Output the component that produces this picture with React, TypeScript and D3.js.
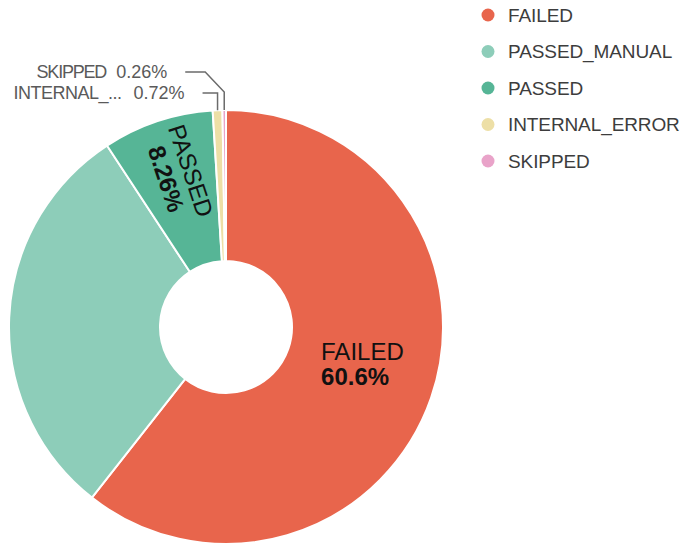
import React from "react";
import * as d3 from "d3";

const categories = ["FAILED", "PASSED_MANUAL", "PASSED", "INTERNAL_ERROR", "SKIPPED"];
const values = [60.6, 30.16, 8.26, 0.72, 0.26];
const colors = ["#E8654C", "#8DCDB9", "#56B596", "#EDDFA6", "#E9A3C9"];
const outsideNames = ["", "", "", "INTERNAL_...", "SKIPPED"];

const W = 682;
const H = 545;
const cx = 226;
const cy = 327;
const R = 217;
const r0 = 66;

export default function App() {
  const pie = d3.pie<number>().sort(null).value((d) => d)(values);
  const arc = d3.arc<d3.PieArcDatum<number>>().innerRadius(r0).outerRadius(R);
  const total = d3.sum(values);
  const fmt = (v: number) => `${+((v / total) * 100).toFixed(2)}%`;

  const inside: React.ReactNode[] = [];
  const outside: React.ReactNode[] = [];

  pie.forEach((p, i) => {
    const mid = (p.startAngle + p.endAngle) / 2;
    const deg = (mid * 180) / Math.PI;
    const share = values[i] / total;
    if (share > 0.05) {
      if (i === 2) {
        const lr = 150;
        const x = cx + lr * Math.sin(mid);
        const y = cy - lr * Math.cos(mid) - 10;
        const rot = deg - 270;
        inside.push(
          <g key={"in" + i} transform={`translate(${x},${y}) rotate(${rot})`}>
            <text textAnchor="middle" dominantBaseline="central" y={-13} fontSize={24} fill="#111">
              {categories[i]}
            </text>
            <text textAnchor="middle" dominantBaseline="central" y={13} fontSize={24} fontWeight="bold" fill="#111">
              {fmt(values[i])}
            </text>
          </g>
        );
      } else if (i === 0) {
        const lr = 145;
        const x = cx + lr * Math.sin(mid);
        const y = cy - lr * Math.cos(mid) - 10;
        const halfW = 42;
        inside.push(
          <g key={"in" + i} transform={`translate(${x - halfW},${y})`}>
            <text textAnchor="start" dominantBaseline="central" y={-12.5} fontSize={24} fill="#111">
              {categories[i]}
            </text>
            <text textAnchor="start" dominantBaseline="central" y={12.5} fontSize={24} fontWeight="bold" fill="#111">
              {fmt(values[i])}
            </text>
          </g>
        );
      }
    } else {
      const x0 = cx + R * Math.sin(mid);
      const y0 = cy - R * Math.cos(mid);
      let pts: [number, number][];
      let ly: number;
      let ls: number;
      let gap: number;
      if (categories[i] === "SKIPPED") {
        ly = 72;
        ls = -1.2;
        gap = 10;
        pts = [
          [x0, y0],
          [x0, 92],
          [x0 - 19, ly],
          [x0 - 39, ly],
        ];
      } else {
        ly = 93;
        ls = -0.5;
        gap = 12;
        pts = [
          [x0, y0],
          [x0, ly],
          [x0 - 15, ly],
        ];
      }
      const last = pts[pts.length - 1];
      outside.push(
        <g key={"out" + i}>
          <path d={d3.line()(pts) || ""} fill="none" stroke="#6b6b6b" strokeWidth={1.5} />
          <text
            x={last[0] - 18}
            y={ly}
            textAnchor="end"
            dominantBaseline="central"
            fontSize={18}
            fill="#5a5a5a"
          >
            <tspan letterSpacing={ls}>{outsideNames[i]}</tspan>
            <tspan dx={gap}>{fmt(values[i])}</tspan>
          </text>
        </g>
      );
    }
  });

  const legendY = d3.scalePoint<string>().domain(categories).range([15, 161]);

  return (
    <svg
      width={W}
      height={H}
      style={{ position: "absolute", left: 0, top: 0, fontFamily: "'Liberation Sans', Arial, sans-serif" }}
    >
      <rect width={W} height={H} fill="#fff" />
      <g transform={`translate(${cx},${cy})`}>
        {pie.map((p, i) => (
          <path key={i} d={arc(p) || ""} fill={colors[i]} stroke="#fff" strokeWidth={2} strokeLinejoin="round" />
        ))}
      </g>
      {inside}
      {outside}
      <g>
        {categories.map((c, i) => (
          <g key={c} transform={`translate(488,${legendY(c)})`}>
            <circle r={6.5} fill={colors[i]} />
            <text x={20} dominantBaseline="central" fontSize={19} letterSpacing={-0.1} fill="#3d3d3d">
              {c}
            </text>
          </g>
        ))}
      </g>
    </svg>
  );
}
